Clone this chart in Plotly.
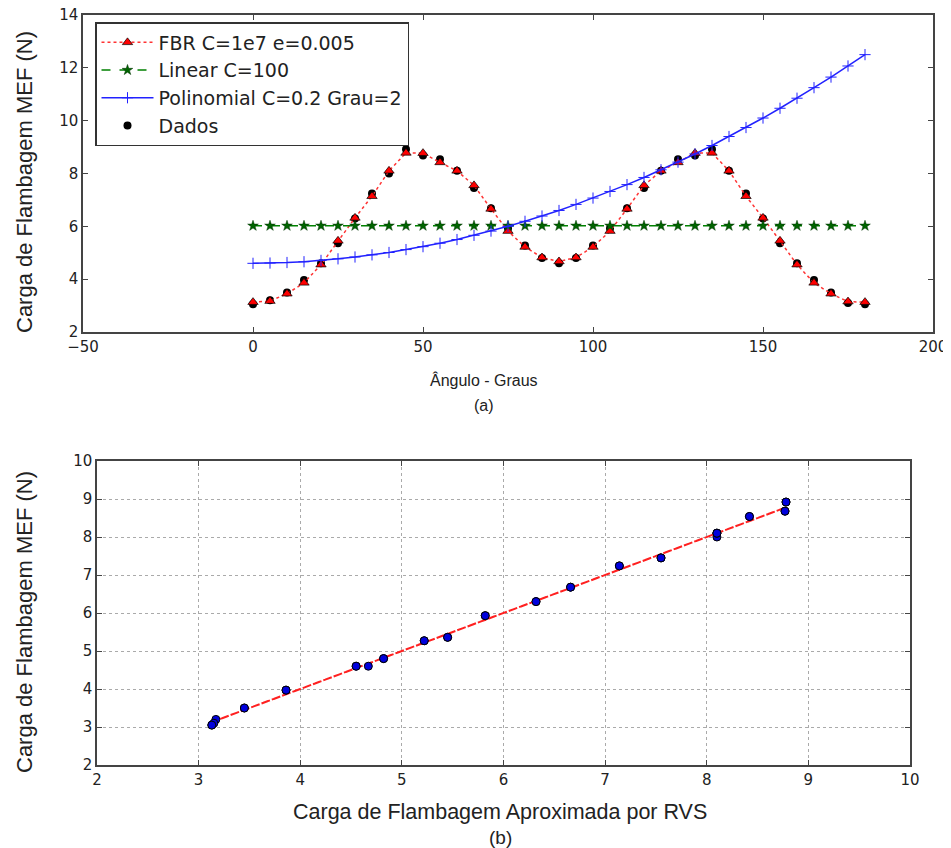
import plotly.graph_objects as go

# ---------------- data ----------------
angles = [0, 5, 10, 15, 20, 25, 30, 35, 40, 45, 50, 55, 60, 65, 70, 75, 80, 85, 90,
          95, 100, 105, 110, 115, 120, 125, 130, 135, 140, 145, 150, 155, 160, 165, 170, 175, 180]

dados = [3.05, 3.2, 3.5, 3.97, 4.6, 5.36, 6.3, 7.24, 8.0, 8.92, 8.68, 8.54, 8.1, 7.45, 6.68, 5.93, 5.27, 4.8, 4.6,
         4.8, 5.27, 5.93, 6.68, 7.45, 8.1, 8.54, 8.68, 8.92, 8.1, 7.24, 6.3, 5.36, 4.6, 3.97, 3.5, 3.1, 3.05]

fbr = [3.13, 3.17, 3.45, 3.86, 4.55, 5.45, 6.32, 7.14, 8.1, 8.78, 8.77, 8.42, 8.1, 7.55, 6.66, 5.82, 5.22, 4.82, 4.67,
       4.82, 5.22, 5.82, 6.66, 7.55, 8.1, 8.42, 8.77, 8.78, 8.1, 7.14, 6.32, 5.45, 4.55, 3.86, 3.45, 3.15, 3.13]

linear = [6.02] * 37

polinomial = [4.60, 4.61, 4.63, 4.66, 4.71, 4.77, 4.84, 4.92, 5.01, 5.12, 5.23, 5.36, 5.50, 5.66, 5.82, 6.00,
              6.19, 6.39, 6.60, 6.83, 7.07, 7.32, 7.58, 7.85, 8.14, 8.43, 8.74, 9.06, 9.40, 9.74, 10.10,
              10.47, 10.85, 11.25, 11.65, 12.07, 12.50]

top_xticks = [-50, 0, 50, 100, 150, 200]
top_yticks = [2, 4, 6, 8, 10, 12, 14]
bot_ticks = [2, 3, 4, 5, 6, 7, 8, 9, 10]

# ---------------- figure ----------------
OFF = 8                      # page body margin in the browser
W, H = 951 - OFF, 848 - OFF  # figure size so it fits the window

def fx(px):
    return (px - OFF) / W

def fy(py):
    return 1 - (py - OFF) / H

fig = go.Figure()

tick_font = dict(family="DejaVu Sans", size=15, color="#222")

# top panel
fig.add_trace(go.Scatter(x=angles, y=dados, mode="markers", name="Dados",
                         marker=dict(symbol="circle", size=8, color="black"),
                         xaxis="x", yaxis="y", legendrank=4, legendgroup="d"))
fig.add_trace(go.Scatter(x=angles, y=fbr, mode="lines+markers", name="FBR C=1e7 e=0.005",
                         line=dict(color="#ff3333", width=1.5, dash="dot"),
                         marker=dict(symbol="triangle-up", size=9, color="red",
                                     line=dict(color="black", width=0.7)),
                         xaxis="x", yaxis="y", legendrank=1, legendgroup="a"))
fig.add_trace(go.Scatter(x=angles, y=linear, mode="lines+markers", name="Linear C=100",
                         line=dict(color="#008000", width=1.5, dash="dash"),
                         marker=dict(symbol="star", size=8, color="#006400",
                                     line=dict(color="#003300", width=0.5)),
                         xaxis="x", yaxis="y", legendrank=2, legendgroup="b"))
fig.add_trace(go.Scatter(x=angles, y=polinomial, mode="lines+markers", name="Polinomial C=0.2 Grau=2",
                         line=dict(color="#2222ff", width=1.5),
                         marker=dict(symbol="cross-thin", size=8, color="#2222ff",
                                     line=dict(color="#2222ff", width=1)),
                         xaxis="x", yaxis="y", legendrank=3, legendgroup="c"))

# bottom panel
fig.add_trace(go.Scatter(x=fbr, y=fbr, mode="lines", showlegend=False,
                         line=dict(color="#ff2020", width=2, dash="7px,4px"),
                         xaxis="x2", yaxis="y2"))
fig.add_trace(go.Scatter(x=fbr, y=dados, mode="markers", showlegend=False,
                         marker=dict(symbol="circle", size=8, color="#0000dd",
                                     line=dict(color="black", width=1)),
                         xaxis="x2", yaxis="y2"))

axis_common = dict(showline=True, linecolor="#444", linewidth=1.5, mirror="allticks",
                   ticks="inside", ticklen=5, tickcolor="#444", tickfont=tick_font,
                   zeroline=False, automargin=False, ticklabeloverflow="allow")

fig.update_layout(
    width=W, height=H,
    margin=dict(l=0, r=0, t=0, b=0, autoexpand=False),
    paper_bgcolor="white", plot_bgcolor="white",
    xaxis=dict(domain=[fx(83), fx(933)], range=[-50, 200], tickvals=top_xticks,
               showgrid=False, anchor="y", **axis_common),
    yaxis=dict(domain=[fy(332), fy(15)], range=[2, 14], tickvals=top_yticks,
               showgrid=False, anchor="x", **axis_common),
    xaxis2=dict(domain=[fx(97), fx(910)], range=[2, 10], tickvals=bot_ticks,
                showgrid=True, gridcolor="#aaa", griddash="dot", gridwidth=1,
                anchor="y2", **axis_common),
    yaxis2=dict(domain=[fy(765), fy(461)], range=[2, 10], tickvals=bot_ticks,
                showgrid=True, gridcolor="#aaa", griddash="dot", gridwidth=1,
                anchor="x2", **axis_common),
    legend=dict(x=fx(95), y=fy(22), xanchor="left", yanchor="top",
                bgcolor="white", bordercolor="#333", borderwidth=1.5,
                font=dict(family="DejaVu Sans", size=19, color="#222"),
                tracegroupgap=0, itemwidth=52),
    showlegend=True,
)

def ann(text, x, y, size=17, angle=0, family="Liberation Sans, Arial"):
    fig.add_annotation(text=text, x=fx(x), y=fy(y), xref="paper", yref="paper",
                       xanchor="center", yanchor="middle",
                       showarrow=False, textangle=angle,
                       font=dict(family=family, size=size, color="#222"))

ann("Ângulo - Graus", 484, 380, size=16)
ann("(a)", 484, 405, size=16)
ann("Carga de Flambagem MEF (N)", 24, 182, size=22, angle=-90)
ann("Carga de Flambagem Aproximada por RVS", 500, 812, size=21.5)
ann("(b)", 500, 837, size=19)
ann("Carga de Flambagem MEF (N)", 24, 622, size=22, angle=-90)

fig.write_html("out.html")
